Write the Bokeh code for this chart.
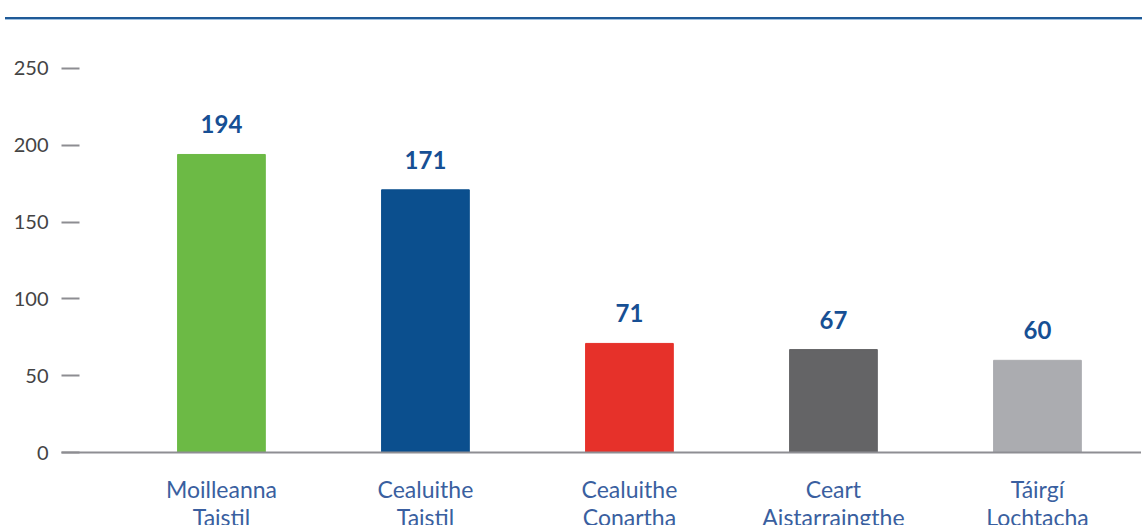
from bokeh.plotting import figure
from bokeh.models import Range1d, FixedTicker, Div, ColumnDataSource
from bokeh.layouts import column
from bokeh.core.properties import value
from bokeh.embed import file_html
from bokeh.resources import INLINE

categories = ["Moilleanna\nTaistil", "Cealuithe\nTaistil", "Cealuithe\nConartha",
              "Ceart\nAistarraingthe", "Táirgí\nLochtacha"]
values = [194, 171, 71, 67, 60]
colors = ["#6cba45", "#0b4f8e", "#e6312a", "#646466", "#abacb0"]
y_ticks = [0, 50, 100, 150, 200, 250]

xs = list(range(len(categories)))
src = ColumnDataSource(dict(x=xs, top=values, color=colors,
                            label=[str(v) for v in values]))

top_line = Div(text="", width=1142, height=14,
               styles={"border-bottom": "2px solid #1f5a97",
                       "box-shadow": "0 1px 0 #9fc0e0"})

p = figure(output_backend="svg", toolbar_location=None,
           frame_width=1080, frame_height=422,
           x_range=Range1d(-0.784, 4.51), y_range=Range1d(0, 274.7),
           min_border_left=61, min_border_right=0, min_border_top=6,
           min_border_bottom=10)
p.outline_line_color = None
p.xgrid.grid_line_color = None
p.ygrid.grid_line_color = None

p.vbar(x="x", top="top", width=0.43, color="color", source=src)
p.text(x="x", y="top", text="label", source=src, text_align="center",
       text_baseline="alphabetic", y_offset=-30,
       text_font=value("Lato"), text_font_style="bold",
       text_font_size="24px", text_color="#174f94")

ya = p.yaxis[0]
ya.ticker = FixedTicker(ticks=y_ticks)
ya.axis_line_color = None
ya.major_tick_in = 18
ya.major_tick_out = 0
ya.minor_tick_line_color = None
ya.major_tick_line_color = "#8d8d92"
ya.major_tick_line_width = 2
ya.major_label_standoff = 13
ya.major_label_text_font = "Lato"
ya.major_label_text_font_size = "20px"
ya.major_label_text_color = "#444444"

xa = p.xaxis[0]
xa.ticker = FixedTicker(ticks=xs)
xa.major_label_overrides = {i: c for i, c in zip(xs, categories)}
xa.axis_line_color = "#8e8e93"
xa.axis_line_width = 2
xa.major_tick_line_color = None
xa.minor_tick_line_color = None
xa.major_label_standoff = 16
xa.major_label_text_font = "Lato"
xa.major_label_text_font_size = "23px"
xa.major_label_text_color = "#3a5fa0"
xa.major_label_text_line_height = 1.0

layout = column(top_line, p, spacing=0)
open("out.html", "w").write(file_html(layout, INLINE))
